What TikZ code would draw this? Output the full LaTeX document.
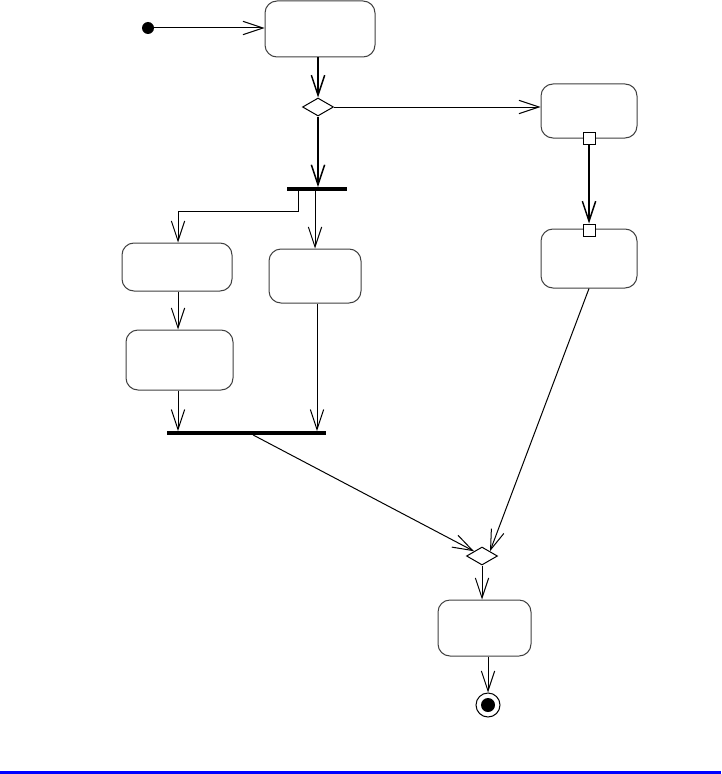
\documentclass[tikz,border=0pt]{standalone}
\usetikzlibrary{arrows.meta,shapes.geometric,calc}
\begin{document}
\begin{tikzpicture}[x=0.75pt,y=-0.75pt,
  act/.style={draw=black!75,line width=0.75pt,rounded corners=9pt,rectangle,inner sep=0pt,fill=white},
  dec/.style={draw=black,line width=0.75pt,diamond,aspect=1.72,minimum width=23.25pt,minimum height=13.5pt,inner sep=0pt,fill=white},
  barnode/.style={fill=black,rectangle,inner sep=0pt,minimum height=2.5pt},
  pin/.style={draw=black,line width=0.75pt,rectangle,fill=white,inner sep=0pt,minimum size=9pt},
  flow/.style={line width=0.75pt,-{Straight Barb[length=15pt,width=10pt]}},
  tflow/.style={line width=1.5pt,-{Straight Barb[length=15pt,width=10pt,line width=1.1pt]}}]
\useasboundingbox (0,0) rectangle (721,774);
\fill[blue] (0,771) rectangle (721,774);
% nodes
\node[circle,fill=black,inner sep=0pt,minimum size=9pt] (init) at (148,28) {};
\node[act,minimum width=82.5pt,minimum height=42pt] (box1) at (320,29) {};
\node[dec] (dia1) at (318,107) {};
\node[barnode,minimum width=45pt] (fork) at (317,189) {};
\node[act,minimum width=72pt,minimum height=40.5pt] (R1) at (589,111) {};
\node[act,minimum width=72pt,minimum height=44.25pt] (R2) at (589,258.5) {};
\node[pin] (pin1) at (589,138) {};
\node[pin] (pin2) at (589,230) {};
\node[act,minimum width=82.5pt,minimum height=36pt] (L1) at (177,267) {};
\node[act,minimum width=69pt,minimum height=40.5pt] (M) at (315,276) {};
\node[act,minimum width=80.25pt,minimum height=45pt] (L2) at (179.5,360) {};
\node[barnode,minimum width=119.25pt] (join) at (246.5,433) {};
\node[dec] (dia2) at (482,556) {};
\node[act,minimum width=69.75pt,minimum height=42pt] (F) at (484.5,628) {};
\node[circle,draw=black,line width=0.75pt,inner sep=0pt,minimum size=18pt] (final) at (488,705) {};
\fill[black] (final.center) circle (5.25pt);
% connectors
\draw[flow] (init) -- (init -| box1.west);
\draw[tflow] (dia1.north |- box1.south) -- (dia1.north);
\draw[tflow] (dia1.south) -- (dia1.south |- fork.north);
\draw[flow] (dia1.east) -- (dia1.east -| R1.west);
\draw[tflow] (pin1.south) -- (pin2.north);
\draw[flow] ([xshift=9pt]fork.south west) -- ++(0,21) -| ([xshift=0.75pt]L1.north);
\draw[flow] (fork.south -| M.north) -- (M.north);
\draw[flow] ([xshift=0.75pt]L1.south) -- ([xshift=0.75pt]L1.south |- L2.north);
\draw[flow] ([xshift=0.75pt]L1.south |- L2.south) -- ([xshift=0.75pt]L1.south |- join.north);
\draw[flow] (M.south -| fork.south) -- (fork.south |- join.north);
\draw[flow] ([xshift=4.9pt]join.south) -- (dia2.north west);
\draw[flow] (R2.south) -- (dia2.north east);
\draw[flow] (dia2.south) -- (dia2.south |- F.north);
\draw[flow] (final.north |- F.south) -- (final.north);
\end{tikzpicture}
\end{document}
